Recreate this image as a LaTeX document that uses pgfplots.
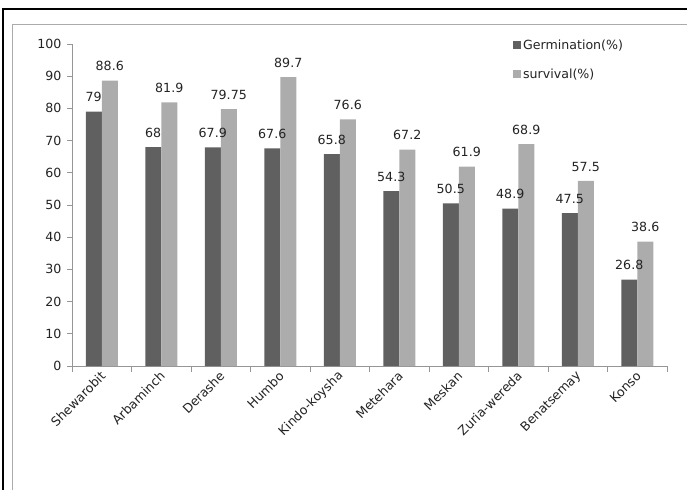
\documentclass[border=0pt]{standalone}
\usepackage{pgfplots}
\pgfplotsset{compat=1.18}
\usepackage{fontspec}
\setmainfont{DejaVu Sans}

\definecolor{germ}{RGB}{96,96,96}
\definecolor{surv}{RGB}{172,172,172}
\definecolor{axisgray}{RGB}{150,150,150}
\definecolor{txt}{RGB}{35,35,35}

\newcommand{\chartfont}{\fontsize{12.6}{14}\selectfont}

\begin{document}
\begin{tikzpicture}
\useasboundingbox (0pt,0pt) rectangle (687pt,490pt);
% page border (top and left edges)
\draw[black, line width=2pt] (3pt,0pt) -- (3pt,481pt) -- (687pt,481pt);
% chart area frame
\draw[axisgray!80, line width=0.8pt] (12pt,0pt) -- (12pt,466pt) -- (687pt,466pt);
\begin{axis}[
  at={(72pt,124pt)}, anchor=south west,
  scale only axis, width=595pt, height=322pt,
  ybar=0pt, bar width=16pt,
  ymin=0, ymax=100, xmin=-0.5, xmax=9.5,
  axis lines=left,
  axis line style={-, draw=axisgray, line width=0.8pt},
  ytick={0,10,...,100},
  xtick={0,...,9},
  xticklabels={Shewarobit,Arbaminch,Derashe,Humbo,Kindo-koysha,Metehara,Meskan,Zuria-wereda,Benatsemay,Konso},
  minor xtick={-0.5,0.5,...,9.5},
  major x tick style={draw=none},
  minor x tick style={draw=axisgray, line width=0.8pt},
  major y tick style={draw=axisgray, line width=0.8pt},
  tick align=outside,
  major tick length=5pt, minor tick length=6pt,
  tick label style={font=\chartfont, text=txt},
  yticklabel style={xshift=-2pt},
  xticklabel style={rotate=45, anchor=east, inner sep=1pt, yshift=-3pt},
  /pgf/number format/assume math mode=true,
  nodes near coords,
  every node near coord/.append style={font=\chartfont, text=txt, yshift=6pt},
  legend style={at={(0.736,1.025)}, anchor=north west, draw=none, fill=none,
    font=\chartfont, text=txt, row sep=14pt},
  legend cell align=left,
  legend image code/.code={\fill[#1] (0pt,-3pt) rectangle (8pt,5pt);},
]
\addplot[fill=germ, draw=none] coordinates {
  (0,79) (1,68) (2,67.9) (3,67.6) (4,65.8)
  (5,54.3) (6,50.5) (7,48.9) (8,47.5) (9,26.8)};
\addplot[fill=surv, draw=none] coordinates {
  (0,88.6) (1,81.9) (2,79.75) (3,89.7) (4,76.6)
  (5,67.2) (6,61.9) (7,68.9) (8,57.5) (9,38.6)};
\legend{Germination(\%),survival(\%)}
\end{axis}
\end{tikzpicture}
\end{document}
